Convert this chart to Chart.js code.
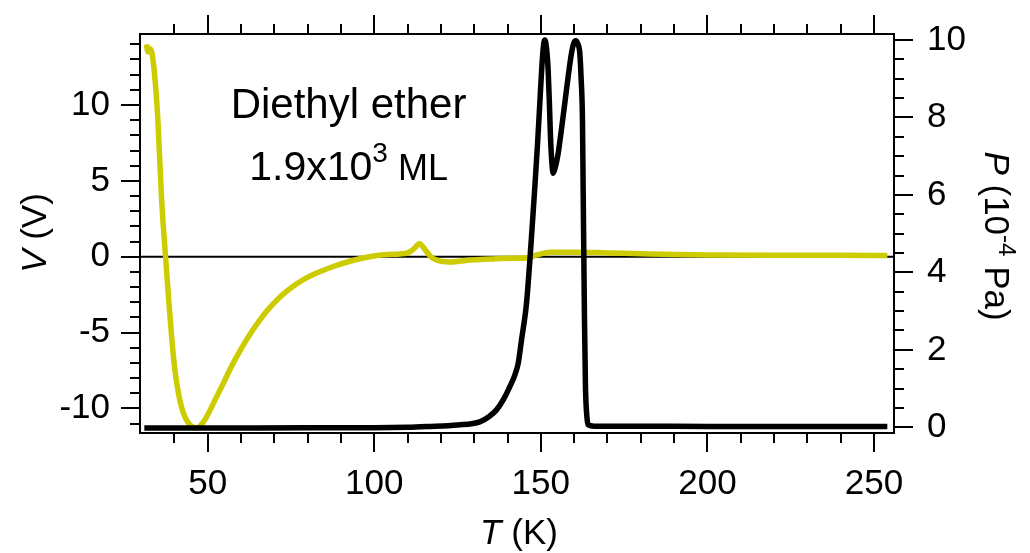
<!DOCTYPE html>
<html>
<head>
<meta charset="utf-8">
<script src="https://cdn.jsdelivr.net/npm/chart.js@4.4.1/dist/chart.umd.min.js"></script>
<style>
  html, body { margin: 0; padding: 0; background: #fff; }
  canvas { display: block; }
</style>
</head>
<body>
<canvas id="tpdChart" width="1030" height="553"></canvas>
<script>
// pressure (right axis, 10^-4 Pa) vs temperature (K)
const tempP = [31, 50, 80, 100, 110, 116, 125, 131.7, 134.5, 136.7, 138.8, 140.7, 142.2, 143.2, 144.2,
  145.7, 146.7, 147.5, 148.2, 149.0, 149.7, 150.3, 150.8, 151.2, 151.7, 152.2, 152.6, 152.9, 153.3,
  153.7, 154.3, 155.2, 156.2, 157.2, 158.2, 159.2, 159.9, 160.5, 161.1, 161.7, 162.1, 162.5, 162.7,
  162.9, 163.1, 163.4, 163.8, 164.2, 166, 180, 200, 220, 254];
const pressure = [-0.02, -0.02, -0.01, -0.01, 0.0, 0.02, 0.06, 0.14, 0.28, 0.45, 0.72, 1.05, 1.35, 1.65, 2.25,
  3.2, 4.3, 5.3, 6.2, 7.3, 8.37, 9.3, 9.85, 10.0, 9.8, 9.22, 8.3, 7.5, 6.85,
  6.56, 6.7, 7.07, 7.7, 8.37, 9.05, 9.66, 9.92, 9.98, 9.9, 9.66, 9.0, 7.93, 6.2,
  4.5, 2.8, 1.05, 0.3, 0.06, 0.03, 0.03, 0.02, 0.02, 0.02];

// voltage (left axis, V) vs temperature (K)
const tempV = [31.6, 32.1, 32.7, 33.3, 34.0, 35.0, 36.2, 37.2, 38.2, 39.2, 40.2, 41.5, 42.7, 44.0, 45.3,
  46.4, 47.5, 48.7, 49.7, 52.0, 54.7, 57.0, 59.7, 63.5, 67.7, 71.5, 75.7, 79.0, 82.7, 87.5, 92.7, 97.0,
  100.7, 104.0, 107.7, 110.0, 111.8, 113.2, 113.8, 114.6, 115.7, 117.0, 118.7, 120.5, 122.7, 125.5,
  128.7, 135.0, 140.7, 144.0, 146.7, 148.5, 150.7, 152.7, 160.0, 170.0, 182.7, 200.0, 220.0, 240.0, 254.0];
const voltage = [14.0, 13.5, 13.7, 13.4, 12.2, 9.3, 3.7, 0.5, -2.5, -5.3, -7.5, -9.3, -10.3, -10.9, -11.2,
  -11.28, -11.2, -10.9, -10.55, -9.55, -8.35, -7.3, -6.2, -4.85, -3.6, -2.7, -1.95, -1.48, -1.08, -0.66, -0.3, -0.07,
  0.08, 0.15, 0.18, 0.25, 0.5, 0.82, 0.85, 0.65, 0.35, 0.0, -0.22, -0.32, -0.35, -0.3,
  -0.22, -0.15, -0.1, -0.1, -0.05, 0.1, 0.22, 0.3, 0.3, 0.25, 0.18, 0.12, 0.1, 0.1, 0.08];

// axes
const tempRange = [29.7, 256];
const voltRange = [-11.62, 14.68];
const presRange = [-0.147, 10.155];
const tempTicks = [50, 100, 150, 200, 250];
const voltTicks = [-10, -5, 0, 5, 10];
const presTicks = [0, 2, 4, 6, 8, 10];

const FONT = "'Liberation Sans', Arial, sans-serif";
const tickFont = { family: FONT, size: 35 };

function toXY(xs, ys) {
  return xs.map((x, i) => ({ x: x, y: ys[i] }));
}

function drawRuns(ctx, runs, x, y) {
  // runs: [{text, font, dy}] drawn centred on x
  let total = 0;
  runs.forEach(r => { ctx.font = r.font; total += ctx.measureText(r.text).width; });
  let cx = x - total / 2;
  runs.forEach(r => {
    ctx.font = r.font;
    ctx.fillText(r.text, cx, y + (r.dy || 0));
    cx += ctx.measureText(r.text).width;
  });
}

const framePlugin = {
  id: 'frameTicks',
  afterDraw(chart) {
    const ctx = chart.ctx;
    const a = chart.chartArea;
    const sx = chart.scales.x, sy = chart.scales.y, sp = chart.scales.y2;
    const MAJ = 19, MIN = 10;
    ctx.save();
    ctx.strokeStyle = '#000';
    ctx.lineWidth = 2;
    ctx.strokeRect(a.left, a.top, a.right - a.left, a.bottom - a.top);

    ctx.beginPath();
    // temperature ticks, bottom and top
    for (let t = 40; t <= 250; t += 10) {
      const px = Math.round(sx.getPixelForValue(t));
      const len = t % 50 === 0 ? MAJ : MIN;
      ctx.moveTo(px, a.bottom); ctx.lineTo(px, a.bottom + len);
      ctx.moveTo(px, a.top); ctx.lineTo(px, a.top - len);
    }
    // voltage ticks, left
    for (let v = -11; v <= 14; v += 1) {
      const py = Math.round(sy.getPixelForValue(v));
      const len = v % 5 === 0 ? MAJ : MIN;
      ctx.moveTo(a.left, py); ctx.lineTo(a.left - len, py);
    }
    // pressure ticks, right
    for (let k = 0; k <= 20; k++) {
      const p = k * 0.5;
      const py = Math.round(sp.getPixelForValue(p));
      const len = k % 4 === 0 ? MAJ : MIN;
      ctx.moveTo(a.right, py); ctx.lineTo(a.right + len, py);
    }
    ctx.stroke();

    ctx.fillStyle = '#000';
    ctx.textBaseline = 'alphabetic';
    ctx.textAlign = 'left';

    // x title
    drawRuns(ctx, [
      { text: 'T', font: 'italic 35px ' + FONT },
      { text: ' (K)', font: '35px ' + FONT }
    ], 519, 544);

    // left title
    ctx.save();
    ctx.translate(46, 233);
    ctx.rotate(-Math.PI / 2);
    drawRuns(ctx, [
      { text: 'V', font: 'italic 35px ' + FONT },
      { text: ' (V)', font: '35px ' + FONT }
    ], 0, 0);
    ctx.restore();

    // right title
    ctx.save();
    ctx.translate(985, 236);
    ctx.rotate(Math.PI / 2);
    drawRuns(ctx, [
      { text: 'P', font: 'italic 35px ' + FONT },
      { text: ' (10', font: '35px ' + FONT },
      { text: '-4', font: '24px ' + FONT, dy: -14 },
      { text: ' Pa)', font: '35px ' + FONT }
    ], 0, 0);
    ctx.restore();

    // annotation
    const ax = sx.getPixelForValue(92.3);
    drawRuns(ctx, [{ text: 'Diethyl ether', font: '42px ' + FONT }], ax, sy.getPixelForValue(9.12));
    drawRuns(ctx, [
      { text: '1.9x10', font: '41px ' + FONT },
      { text: '3', font: '28px ' + FONT, dy: -18 },
      { text: ' ML', font: '36px ' + FONT }
    ], ax, sy.getPixelForValue(5.05));
    ctx.restore();
  }
};

function fixWidth(w) {
  return s => { s.width = w; s.paddingTop = 0; s.paddingBottom = 0; };
}

new Chart(document.getElementById('tpdChart'), {
  type: 'line',
  data: {
    datasets: [
      {
        label: 'P',
        data: toXY(tempP, pressure),
        yAxisID: 'y2',
        borderColor: '#000',
        borderWidth: 5.5,
        pointRadius: 0,
        cubicInterpolationMode: 'monotone'
      },
      {
        label: 'V',
        data: toXY(tempV, voltage),
        yAxisID: 'y',
        borderColor: '#cccc00',
        borderWidth: 5.5,
        pointRadius: 0,
        cubicInterpolationMode: 'monotone'
      },
      {
        label: 'zero',
        data: toXY(tempRange, [0, 0]),
        yAxisID: 'y',
        borderColor: '#000',
        borderWidth: 2,
        pointRadius: 0
      }
    ]
  },
  options: {
    responsive: false,
    animation: false,
    devicePixelRatio: 1,
    layout: { padding: { top: 34, left: 0, right: 0, bottom: 0 } },
    plugins: { legend: { display: false }, tooltip: { enabled: false } },
    scales: {
      x: {
        type: 'linear',
        min: tempRange[0], max: tempRange[1],
        afterBuildTicks: s => { s.ticks = tempTicks.map(v => ({ value: v })); },
        afterFit: s => { s.height = 120; s.paddingLeft = 0; s.paddingRight = 0; },
        grid: { display: false, drawTicks: false },
        border: { display: false },
        ticks: { font: tickFont, color: '#000', padding: 30, maxRotation: 0, autoSkip: false }
      },
      y: {
        position: 'left',
        min: voltRange[0], max: voltRange[1],
        afterBuildTicks: s => { s.ticks = voltTicks.map(v => ({ value: v })); },
        afterFit: fixWidth(140),
        grid: { display: false, drawTicks: false },
        border: { display: false },
        ticks: { font: tickFont, color: '#000', padding: 30, autoSkip: false }
      },
      y2: {
        position: 'right',
        min: presRange[0], max: presRange[1],
        afterBuildTicks: s => { s.ticks = presTicks.map(v => ({ value: v })); },
        afterFit: fixWidth(136),
        grid: { display: false, drawTicks: false },
        border: { display: false },
        ticks: { font: tickFont, color: '#000', padding: 33, autoSkip: false }
      }
    }
  },
  plugins: [framePlugin]
});
</script>
</body>
</html>
